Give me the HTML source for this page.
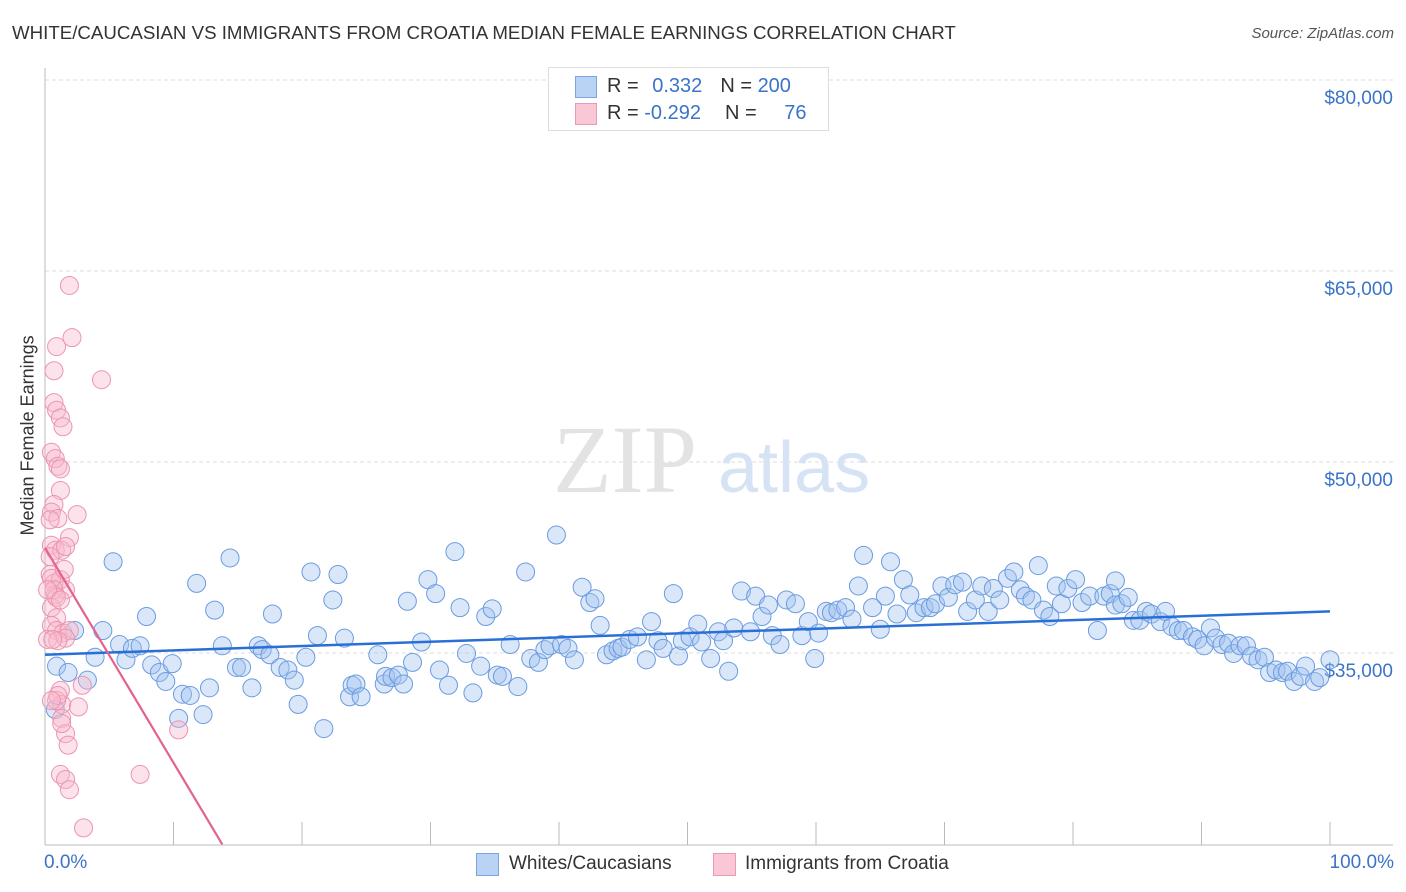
<!DOCTYPE html>
<html><head><meta charset="utf-8">
<style>
body{margin:0;background:#fff;font-family:"Liberation Sans",sans-serif;}
#wrap{position:relative;width:1406px;height:892px;overflow:hidden;}
.t{position:absolute;white-space:nowrap;}
</style></head>
<body>
<div id="wrap">
<div class="t" style="left:12px;top:22px;font-size:18.7px;color:#333;">WHITE/CAUCASIAN VS IMMIGRANTS FROM CROATIA MEDIAN FEMALE EARNINGS CORRELATION CHART</div>
<div class="t" style="right:12px;top:25px;font-size:15px;color:#555;font-style:italic;">Source: ZipAtlas.com</div>
<svg id="plot" width="1406" height="892" style="position:absolute;left:0;top:0"></svg>
</div>
<script>
const blueX=[0.8,0.9,1.8,2.3,3.3,3.9,4.5,5.3,5.8,6.3,6.8,7.4,7.9,8.3,8.9,9.4,9.9,10.4,10.7,11.3,11.8,12.3,12.8,13.2,13.8,14.4,14.9,15.3,16.1,16.6,16.9,17.5,17.7,18.3,18.9,19.4,19.7,20.3,20.7,21.2,21.7,22.8,22.4,23.3,23.7,23.9,24.2,24.6,25.9,26.4,26.5,27.0,27.5,27.9,28.2,28.6,29.3,29.8,30.4,30.7,31.4,31.9,32.3,32.8,33.3,33.9,34.3,34.8,35.2,35.6,36.2,36.8,37.4,37.8,38.4,38.9,39.3,39.8,40.2,40.7,41.2,41.8,42.4,42.8,43.2,43.7,44.2,44.6,44.9,45.5,46.1,46.8,47.2,47.7,48.1,48.9,49.3,49.6,50.2,50.8,51.1,51.8,52.4,52.8,53.2,53.6,54.2,54.9,55.3,55.8,56.3,56.6,57.2,57.7,58.4,58.9,59.4,59.9,60.2,60.8,61.2,61.7,62.3,62.8,63.3,63.7,64.4,65.0,65.4,65.8,66.3,66.8,67.3,67.8,68.4,68.9,69.3,69.8,70.3,70.8,71.4,71.8,72.4,72.9,73.4,73.8,74.3,74.9,75.4,75.9,76.3,76.8,77.3,77.7,78.2,78.7,79.1,79.6,80.2,80.7,81.3,81.9,82.4,82.9,83.3,83.8,84.3,84.7,85.2,85.7,86.1,86.8,87.2,87.7,88.2,88.6,89.3,89.7,90.2,90.7,91.1,91.6,92.1,92.5,93.0,93.5,93.9,94.4,94.9,95.3,95.8,96.3,96.7,97.2,97.7,98.1,98.8,99.2,100.0,83.3];
const blueY=[31.9,35.3,34.8,38.1,34.2,36.0,38.1,43.5,37.0,35.8,36.7,36.9,39.2,35.4,34.8,34.1,35.5,31.2,33.1,33.0,41.8,31.5,33.6,39.7,36.9,43.8,35.2,35.2,33.6,36.9,36.6,36.2,39.4,35.2,35.0,34.2,32.3,36.0,42.7,37.7,30.4,42.5,40.5,37.5,32.9,33.8,33.9,32.9,36.2,33.9,34.5,34.4,34.6,33.9,40.4,35.6,37.2,42.1,41.0,35.0,33.8,44.3,39.9,36.3,33.2,35.3,39.2,39.8,34.6,34.5,37.0,33.7,42.7,35.9,35.6,36.6,36.9,45.6,37.0,36.7,35.8,41.5,40.3,40.6,38.5,36.2,36.5,36.7,36.8,37.4,37.6,35.8,38.8,37.3,36.7,41.0,36.1,37.3,37.6,38.6,37.2,35.9,38.0,37.3,34.9,38.3,41.2,38.0,40.8,39.2,40.1,37.7,37.0,40.5,40.2,37.7,38.8,35.9,37.9,39.6,39.5,39.7,39.9,39.0,41.6,44.0,39.9,38.2,40.8,43.5,39.4,42.1,40.9,39.5,39.9,39.9,40.2,41.6,40.7,41.7,41.9,39.6,40.5,41.6,39.6,41.4,40.5,42.2,42.7,41.3,40.8,40.5,43.2,39.7,39.2,41.6,40.2,41.4,42.1,40.3,40.8,38.1,40.8,41.0,40.1,40.2,40.7,38.9,38.9,39.6,39.4,38.8,39.6,38.4,38.1,38.1,37.6,37.4,36.9,38.3,37.5,37.0,37.1,36.3,36.9,36.9,36.1,35.8,36.0,34.8,35.0,34.8,34.9,34.1,34.5,35.3,34.1,34.4,35.8,42.0];
const pinkX=[1.9,0.9,2.1,0.7,4.4,0.7,0.9,1.2,1.4,0.5,0.8,1.0,1.2,1.2,0.7,0.5,2.5,1.0,1.9,0.5,0.8,1.3,1.6,0.4,0.4,0.7,1.2,1.6,0.8,0.5,0.9,0.5,0.9,1.4,1.9,1.6,0.2,1.0,2.9,1.2,1.3,2.6,1.3,1.6,1.8,1.2,1.6,1.9,7.4,3.0,10.4,0.5,0.7,0.9,0.4,1.5,0.2,0.6,0.9,1.0,1.3,0.5,1.2];
const pinkY=[65.2,60.4,61.1,58.5,57.8,56.0,55.4,54.8,54.1,52.1,51.6,51.0,50.8,49.1,48.0,47.4,47.2,46.9,45.4,44.8,44.4,44.4,44.7,43.9,42.5,41.8,42.1,41.3,40.9,39.9,39.1,38.5,38.1,37.9,38.1,37.5,37.4,37.3,33.8,33.4,32.3,32.1,31.2,30.0,29.1,26.8,26.4,25.6,26.8,22.6,30.3,42.2,41.3,40.7,46.8,42.9,41.3,37.4,32.6,33.0,30.8,32.6,40.5];
const blueTrendX=[0,100], blueTrendY=[36.2,39.6];
const pinkTrendX=[0,13.8], pinkTrendY=[44.6,21.3];
const yTicks=[80,65,50,35];
const yTickLabels=["$80,000","$65,000","$50,000","$35,000"];
const xTicks=[0,10,20,30,40,50,60,70,80,90,100];

const X=p=>45+p*12.85;
const Y=v=>670-(v-35)*12.733;
const svg=document.getElementById('plot');
const NS='http://www.w3.org/2000/svg';
function mk(tag,attrs,parent){const e=document.createElementNS(NS,tag);for(const k in attrs)e.setAttribute(k,attrs[k]);(parent||svg).appendChild(e);return e;}

yTicks.forEach((v,i)=>{
  const g=mk('line',{x1:45,x2:1393,y1:Y(v)-17,y2:Y(v)-17,stroke:'#ddd','stroke-dasharray':'4,3'});
  
  
  const t=mk('text',{x:1393,y:Y(v)+7,'text-anchor':'end','font-size':19,fill:'#3b73c9','font-family':'Liberation Sans, sans-serif'});
  t.textContent=yTickLabels[i];
  
  
});
const wm=mk('text',{x:553,y:492,'font-size':96,fill:'#e3e3e3','font-family':'Liberation Serif, serif'});wm.textContent='ZIP';


const wm2=mk('text',{x:718,y:492,'font-size':72,fill:'#d6e3f5','font-family':'Liberation Sans, sans-serif'});wm2.textContent='atlas';


const ax=mk('line',{x1:45,x2:1393,y1:845,y2:845,stroke:'#bbb'});


const ay=mk('line',{x1:45,x2:45,y1:68,y2:845,stroke:'#bbb'});


xTicks.forEach(p=>{const l=mk('line',{x1:X(p),x2:X(p),y1:822,y2:845,stroke:'#bbb'});
  
  });
blueX.forEach((p,i)=>{const c=mk('circle',{cx:X(p),cy:Y(blueY[i]),r:9,fill:'rgba(160,195,240,0.4)',stroke:'#6b9be0','stroke-width':1});
  
  });
pinkX.forEach((p,i)=>{const c=mk('circle',{cx:X(p),cy:Y(pinkY[i]),r:9,fill:'rgba(248,185,205,0.4)',stroke:'#ec94b0','stroke-width':1});
  
  });
const bt=mk('line',{x1:X(blueTrendX[0]),y1:Y(blueTrendY[0]),x2:X(blueTrendX[1]),y2:Y(blueTrendY[1]),stroke:'#2a6fd6','stroke-width':2.5});


const pt=mk('line',{x1:X(pinkTrendX[0]),y1:Y(pinkTrendY[0]),x2:X(pinkTrendX[1]),y2:Y(pinkTrendY[1]),stroke:'#e4628c','stroke-width':2.2});


</script>
<div class="t" style="left:-52px;top:445px;font-size:18px;color:#333;transform:rotate(-90deg);width:160px;text-align:center;">Median Female Earnings</div>
<div class="t" style="left:44px;top:852px;font-size:19px;color:#3b73c9;">0.0%</div>
<div class="t" style="right:12px;top:852px;font-size:19px;color:#3b73c9;">100.0%</div>
<div style="position:absolute;left:548px;top:67px;width:279px;height:62px;border:1px solid #ddd;background:#fff;font-size:20px;">
  <div style="position:absolute;left:26px;top:8px;width:20px;height:20px;background:#b9d3f5;border:1px solid #7aa5e0;"></div>
  <div class="t" style="left:58px;top:7px;color:#333;">R = <span style="color:#3b73c9;margin-left:8px">0.332</span><span style="color:#333;margin-left:18px">N = </span><span style="color:#3b73c9">200</span></div>
  <div style="position:absolute;left:26px;top:35px;width:20px;height:20px;background:#f9c7d6;border:1px solid #eb9ab4;"></div>
  <div class="t" style="left:58px;top:34px;color:#333;">R = <span style="color:#3b73c9">-0.292</span><span style="color:#333;margin-left:24px">N = </span><span style="color:#3b73c9;margin-left:22px">76</span></div>
</div>
<div style="position:absolute;left:476px;top:853px;width:21px;height:21px;background:#b9d3f5;border:1px solid #7aa5e0;"></div>
<div class="t" style="left:509px;top:853px;font-size:19px;color:#333;">Whites/Caucasians</div>
<div style="position:absolute;left:713px;top:853px;width:21px;height:21px;background:#f9c7d6;border:1px solid #eb9ab4;"></div>
<div class="t" style="left:745px;top:853px;font-size:19px;color:#333;">Immigrants from Croatia</div>
</body></html>
